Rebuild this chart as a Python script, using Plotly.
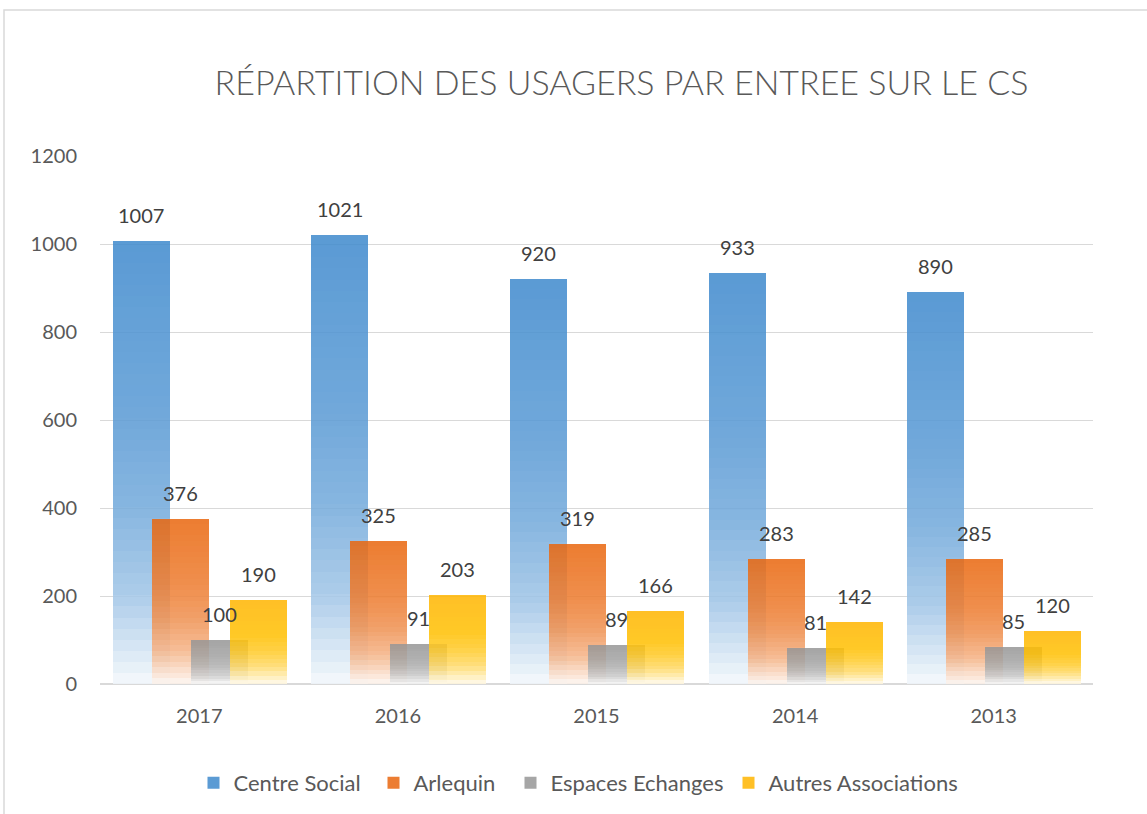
import plotly.graph_objects as go

years = ["2017", "2016", "2015", "2014", "2013"]
centre_social = [1007, 1021, 920, 933, 890]
arlequin = [376, 325, 319, 283, 285]
espaces_echanges = [100, 91, 89, 81, 85]
autres_associations = [190, 203, 166, 142, 120]

series_names = ["Centre Social", "Arlequin", "Espaces Echanges", "Autres Associations"]
series_values = [centre_social, arlequin, espaces_echanges, autres_associations]
series_colors = ["#5B9BD5", "#ED7D31", "#A5A5A5", "#FFC000"]
series_slices = [40, 30, 16, 20]
legend_ids = ["legend", "legend2", "legend3", "legend4"]
legend_x_px = [193.5, 373.5, 510.5, 728.5]

BAR_W = 0.287
OFF0 = -0.436
STEP = 0.197
ALPHA = 0.85

# whiteness profile along bar (t = 0 top, t = 1 bottom)
prof = [(0.0, 0.0), (0.4, 0.14), (0.6, 0.27), (0.8, 0.5), (0.9, 0.72), (1.0, 0.94)]


def whiteness(t):
    for (t0, w0), (t1, w1) in zip(prof[:-1], prof[1:]):
        if t0 <= t <= t1:
            return w0 + (w1 - w0) * (t - t0) / (t1 - t0)
    return prof[-1][1]


def hex2rgb(h):
    h = h.lstrip("#")
    return [int(h[i:i + 2], 16) for i in (0, 2, 4)]


def slice_color(hexc, t):
    w = whiteness(t)
    rgb = hex2rgb(hexc)
    vis = [c + (255 - c) * w for c in rgb]
    col = [max(0, min(255, (v - (1 - ALPHA) * 255) / ALPHA)) for v in vis]
    return "rgba(%d,%d,%d,%.3f)" % (col[0], col[1], col[2], ALPHA)


xpos = list(range(len(years)))
fig = go.Figure()

for si, (name, vals, colr, N) in enumerate(zip(series_names, series_values, series_colors, series_slices)):
    off = OFF0 + si * STEP
    for k in range(N):
        t = 1 - (k + 0.5) / N
        fig.add_trace(go.Bar(
            x=xpos,
            y=[v / N for v in vals],
            base=[v * k / N for v in vals],
            width=BAR_W,
            offset=off,
            marker=dict(color=slice_color(colr, t), line=dict(width=0)),
            name=name,
            legendgroup=name,
            legend=legend_ids[si],
            showlegend=(k == N - 1),
            hoverinfo="skip",
        ))
    for i, v in enumerate(vals):
        fig.add_annotation(
            x=i + off + BAR_W / 2, y=v, yshift=26,
            text=str(v), showarrow=False,
            xanchor="center", yanchor="middle",
            font=dict(family="Lato", size=20, color="#404040"),
        )

legend_common = dict(
    orientation="h", xref="container", xanchor="left",
    y=1 - 783 / 814, yref="container", yanchor="middle",
    font=dict(family="Lato", size=22, color="#595959"),
    bgcolor="rgba(0,0,0,0)", borderwidth=0,
)
legend_layout = {}
for lid, lx in zip(legend_ids, legend_x_px):
    legend_layout[lid] = dict(legend_common, x=lx / 1147)

fig.update_layout(
    width=1147, height=814,
    paper_bgcolor="white", plot_bgcolor="white",
    barmode="overlay", bargap=0, bargroupgap=0,
    margin=dict(l=100, r=54, t=156, b=130),
    font=dict(family="Lato", color="#595959"),
    title=dict(
        text="RÉPARTITION DES USAGERS PAR ENTREE SUR LE CS",
        x=621.5 / 1147, xref="container", xanchor="center",
        y=1 - 83 / 814, yref="container", yanchor="middle",
        font=dict(family="Lato", size=34, color="#595959", weight=300),
    ),
    xaxis=dict(
        range=[-0.5, 4.5], tickmode="array", tickvals=xpos, ticktext=years,
        showgrid=False, zeroline=False, showline=False, ticks="",
        tickfont=dict(family="Lato", size=20, color="#595959"),
        ticklabelstandoff=18,
    ),
    yaxis=dict(
        range=[0, 1200], tickvals=[0, 200, 400, 600, 800, 1000, 1200],
        showgrid=True, gridcolor="#d9d9d9", gridwidth=1,
        zeroline=True, zerolinecolor="#d9d9d9", zerolinewidth=2,
        showline=False, ticks="",
        tickfont=dict(family="Lato", size=20, color="#595959"),
        ticklabelstandoff=22,
    ),
    shapes=[dict(
        type="rect", xref="paper", yref="paper",
        x0=(4 - 100) / 993, x1=(1160 - 100) / 993,
        y0=(684 - 830) / 528, y1=(684 - 10) / 528,
        line=dict(color="#d9d9d9", width=1.5), fillcolor="rgba(0,0,0,0)",
        layer="below",
    )],
    **legend_layout,
)

fig.write_html(
    "out.html",
    config={"displayModeBar": False},
    post_script="document.body.style.margin='0px';",
)
